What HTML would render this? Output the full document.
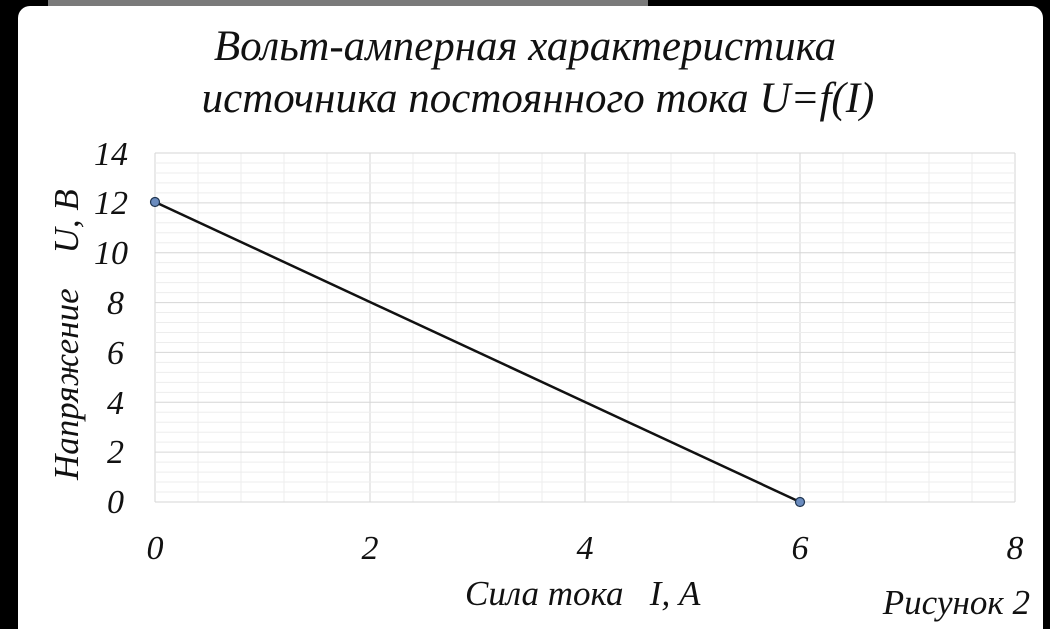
<!DOCTYPE html>
<html><head><meta charset="utf-8"><style>
html,body{margin:0;padding:0;background:#000;width:1050px;height:629px;overflow:hidden}
</style></head><body>
<svg width="1050" height="629" xmlns="http://www.w3.org/2000/svg" font-family="Liberation Serif, serif" font-style="italic" fill="#111">
<rect x="0" y="0" width="1050" height="629" fill="#000"/>
<rect x="48" y="0" width="600" height="8" fill="#7a7a7a"/>
<rect x="18" y="6" width="1025" height="640" rx="12" fill="#fff"/>
<g id="grid"></g>
<text x="525" y="60" font-size="43" text-anchor="middle">Вольт-амперная характеристика</text>
<text x="538" y="112" font-size="43" text-anchor="middle">источника постоянного тока U=f(I)</text>
<polyline points="155,202 800,502" stroke="#111" stroke-width="2.5" fill="none"/>
<circle cx="155" cy="202" r="4.5" fill="#6b8cbf" stroke="#1f3550" stroke-width="1.2"/>
<circle cx="800" cy="502" r="4.5" fill="#6b8cbf" stroke="#1f3550" stroke-width="1.2"/>
<g font-size="34" text-anchor="end">
<text x="128" y="165">14</text><text x="128" y="214">12</text><text x="128" y="264">10</text>
<text x="124" y="314">8</text><text x="124" y="364">6</text><text x="124" y="414">4</text>
<text x="124" y="463">2</text><text x="124" y="513">0</text>
</g>
<g font-size="34" text-anchor="middle">
<text x="155" y="559">0</text><text x="370" y="559">2</text><text x="585" y="559">4</text>
<text x="800" y="559">6</text><text x="1015" y="559">8</text>
</g>
<text x="465" y="605" font-size="35" xml:space="preserve">Сила тока   I, А</text>
<text x="1030" y="614" font-size="35" text-anchor="end">Рисунок 2</text>
<text transform="translate(78,480) rotate(-90)" font-size="35" xml:space="preserve">Напряжение    U, В</text>
</svg>
<script>
var ns="http://www.w3.org/2000/svg",g=document.getElementById("grid");
function L(x1,y1,x2,y2,c){var l=document.createElementNS(ns,"line");l.setAttribute("x1",x1);l.setAttribute("y1",y1);l.setAttribute("x2",x2);l.setAttribute("y2",y2);l.setAttribute("stroke",c);l.setAttribute("stroke-width",1);g.appendChild(l);}
for(var i=0;i<=20;i++){var x=155+i*43;L(x,153,x,502,i%5==0?"#d6d6d6":"#ededed");}
for(var j=0;j<=35;j++){var y=153+j*349/35;L(155,y,1015,y,j%5==0?"#d6d6d6":"#ededed");}
</script>
</body></html>
